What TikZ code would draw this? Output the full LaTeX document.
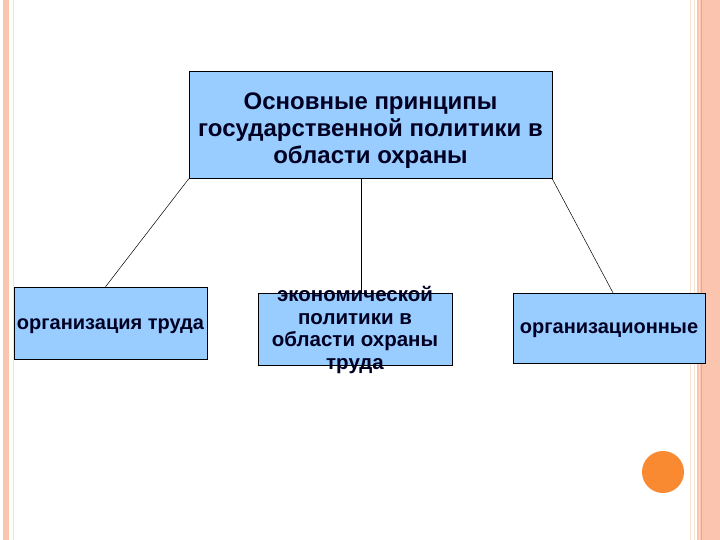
\documentclass[tikz,border=0pt]{standalone}
\usepackage{fontspec}
\setmainfont{Liberation Sans}
\usetikzlibrary{positioning}

\definecolor{boxblue}{HTML}{99CCFF}
\definecolor{rand}{HTML}{FBC4AE}
\definecolor{randdunkel}{HTML}{F4A384}
\definecolor{randhell}{HTML}{F7E3D2}
\definecolor{kreis}{HTML}{F98A32}
\definecolor{schrift}{HTML}{000022}

\tikzset{
    kasten/.style={draw=black, fill=boxblue, inner sep=0pt},
    beschriftung/.style={text=schrift, font=\bfseries, align=center, inner sep=0pt},
    verbindung/.style={draw=black, line width=0.5pt}
}

\begin{document}
\begin{tikzpicture}[x=1pt, y=-1pt]
    \useasboundingbox (0,0) rectangle (720,540);
    % Rand links:
    \fill[rand] (3,0) rectangle (9,540);
    \draw[randhell, line width=1pt] (13.5,0) -- (13.5,540);
    % Rand rechts:
    \draw[randhell, line width=1pt] (690.5,0) -- (690.5,540);
    \draw[randhell, line width=1pt] (694,0) -- (694,540);
    \fill[rand] (697,0) rectangle (720,540);
    \draw[randdunkel, line width=0.8pt] (701.5,0) -- (701.5,540);
    \draw[randhell, line width=0.8pt] (699,0) -- (699,540);
    % Kreis unten rechts:
    \fill[kreis] (663,472) circle (21);

    % oberster Kasten:
    \node[kasten, minimum width=363pt, minimum height=107pt] (oben) at (370.5,125) {};
    \node[beschriftung, font=\bfseries\fontsize{24}{27}\selectfont] (obentext) at ([yshift=-6pt]oben.center)
        {Основные принципы\\государственной политики в\\области охраны};

    % untere Kaesten:
    \node[kasten, minimum width=193pt, minimum height=72pt] (links) at (110.5,323) {};
    \node[beschriftung, font=\bfseries\fontsize{20}{23}\selectfont] (linkstext) at ([yshift=-3pt]links.center)
        {организация труда};

    \node[kasten, minimum width=194pt, minimum height=72pt] (mitte) at (355,329) {};
    \node[beschriftung, font=\bfseries\fontsize{20.5}{22.5}\selectfont] (mittetext) at ([yshift=-1pt]mitte.center)
        {экономической\\политики в\\области охраны\\труда};

    \node[kasten, minimum width=192pt, minimum height=70pt] (rechts) at (609,328) {};
    \node[beschriftung, font=\bfseries\fontsize{20}{23}\selectfont] (rechtstext) at ([yshift=-2pt]rechts.center)
        {организационные};

    % Verbindungen:
    \draw[verbindung] (oben.south west) -- ([xshift=-5pt]links.north);
    \draw[verbindung] ([xshift=6pt]mitte.north |- oben.south) -- ([xshift=6pt]mitte.north);
    \draw[verbindung] (oben.south east) -- ([xshift=4pt]rechts.north);
\end{tikzpicture}
\end{document}
